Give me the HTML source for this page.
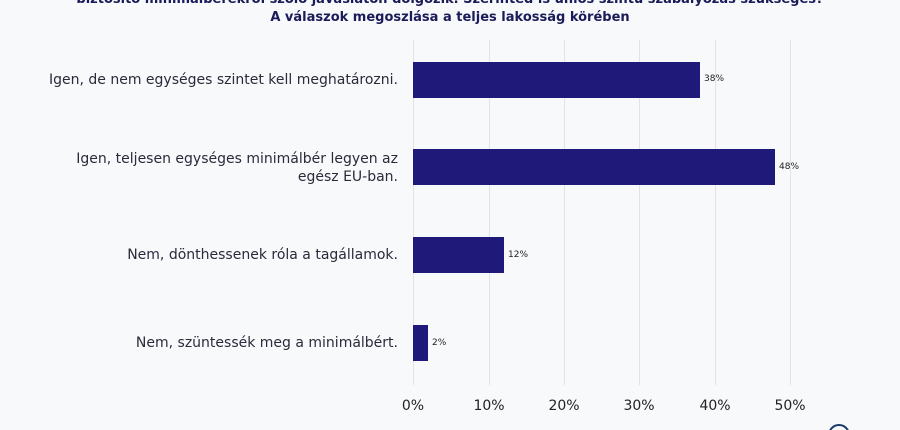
<!DOCTYPE html>
<html style="height:430px;overflow:hidden"><head><meta charset="utf-8"><style>
body{margin:0;width:900px;height:430px;background:#f8f9fb;overflow:hidden;position:relative;font-family:"DejaVu Sans","Liberation Sans",sans-serif;}
.t{position:absolute;left:0;width:900px;text-align:center;font-weight:bold;color:#1b1b5a;font-size:13px;white-space:nowrap;}
.g{position:absolute;top:40px;height:345px;width:1px;background:#e3e3e6;}
.b{position:absolute;left:413px;background:#1f1a7a;height:36px;}
.v{position:absolute;font-size:9px;color:#222;}
.l{position:absolute;right:502px;text-align:right;font-size:14px;color:#2a2a3a;line-height:18px;}
.x{position:absolute;top:398px;font-size:14px;color:#222;width:60px;margin-left:-30px;text-align:center;}
</style></head><body>
<div class="t" style="top:-8px">biztosító minimálbérekről szóló javaslaton dolgozik. Szerinted is uniós szintű szabályozás szükséges?</div>
<div class="t" style="top:10px">A válaszok megoszlása a teljes lakosság körében</div>
<div class="g" style="left:413px"></div><div class="g" style="left:489px"></div><div class="g" style="left:564px"></div><div class="g" style="left:639px"></div><div class="g" style="left:715px"></div><div class="g" style="left:790px"></div>
<div class="b" style="top:62px;width:287px"></div><div class="v" style="left:704px;top:74px">38%</div>
<div class="b" style="top:149px;width:362px"></div><div class="v" style="left:779px;top:162px">48%</div>
<div class="b" style="top:237px;width:91px"></div><div class="v" style="left:508px;top:250px">12%</div>
<div class="b" style="top:325px;width:15px"></div><div class="v" style="left:432px;top:338px">2%</div>
<div class="l" style="top:71px">Igen, de nem egységes szintet kell meghatározni.</div>
<div class="l" style="top:150px">Igen, teljesen egységes minimálbér legyen az<br>egész EU-ban.</div>
<div class="l" style="top:246px">Nem, dönthessenek róla a tagállamok.</div>
<div class="l" style="top:334px">Nem, szüntessék meg a minimálbért.</div>
<div class="x" style="left:413px">0%</div><div class="x" style="left:489px">10%</div><div class="x" style="left:564px">20%</div><div class="x" style="left:639px">30%</div><div class="x" style="left:715px">40%</div><div class="x" style="left:790px">50%</div>
<div style="position:absolute;left:828px;top:424px;width:18px;height:18px;border:2px solid #1b3a6a;border-radius:50%"></div>
</body></html>
